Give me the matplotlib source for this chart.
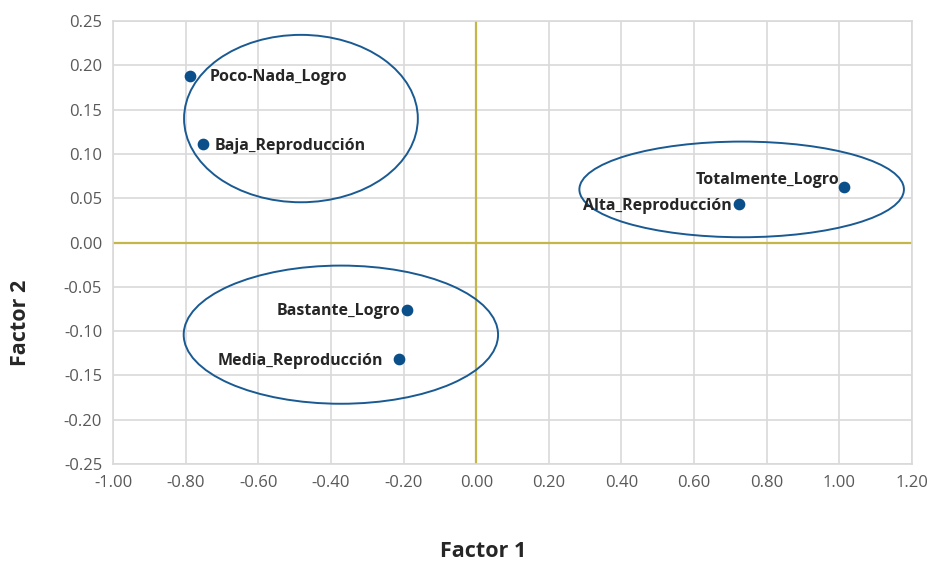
import matplotlib
matplotlib.use("Agg")
import matplotlib.pyplot as plt
from matplotlib.patches import Ellipse
import numpy as np

# data points (Factor 1, Factor 2)
labels = ["Poco-Nada_Logro", "Baja_Reproducción", "Totalmente_Logro",
          "Alta_Reproducción", "Bastante_Logro", "Media_Reproducción"]
f1 = [-0.789, -0.754, 1.012, 0.724, -0.191, -0.214]
f2 = [0.188, 0.111, 0.063, 0.044, -0.076, -0.131]
label_side = ["right", "right", "left", "left", "left", "left"]

# grouping ellipses: center x, center y, width, height
ell_cx = [-0.483, 0.731, -0.373]
ell_cy = [0.140, 0.060, -0.104]
ell_w = [0.644, 0.894, 0.866]
ell_h = [0.189, 0.108, 0.156]

xticks = np.round(np.arange(-1.0, 1.21, 0.2), 2) + 0.0
yticks = np.round(np.arange(-0.25, 0.251, 0.05), 2) + 0.0

tick_font = ["Open Sans", "DejaVu Sans"]
lab_font = ["Open Sans", "DejaVu Sans"]

fig = plt.figure(figsize=(9.33, 5.62), dpi=100)
ax = fig.add_axes([0.1214, 0.1744, 0.856, 0.788])

ax.set_xlim(-1.0, 1.2)
ax.set_ylim(-0.25, 0.25)
ax.set_xticks(xticks)
ax.set_yticks(yticks)
ax.set_xticklabels([f"{abs(v):.2f}" if abs(v) < 1e-9 else f"{v:.2f}" for v in xticks],
                   family=tick_font, fontsize=12, color="#595959")
ax.set_yticklabels([f"{abs(v):.2f}" if abs(v) < 1e-9 else f"{v:.2f}" for v in yticks],
                   family=tick_font, fontsize=12, color="#595959")
ax.tick_params(length=0, pad=8)
ax.grid(True, color="#d9d9d9", lw=1.2)
ax.set_axisbelow(True)
for s in ax.spines.values():
    s.set_color("#d9d9d9")
    s.set_linewidth(1.2)

ax.axhline(0, color="#c4b648", lw=1.6, zorder=1)
ax.axvline(0, color="#c4b648", lw=1.6, zorder=1)

for cx, cy, w, h in zip(ell_cx, ell_cy, ell_w, ell_h):
    ax.add_patch(Ellipse((cx, cy), w, h, fill=False, edgecolor="#1a5a92", lw=1.4, zorder=3))

ax.scatter(f1, f2, s=55, color="#0b4f8a", zorder=4)

offsets = {"Poco-Nada_Logro": (14, -1), "Baja_Reproducción": (9, -1),
           "Totalmente_Logro": (-3, 5), "Alta_Reproducción": (-5, -2),
           "Bastante_Logro": (-5, -1), "Media_Reproducción": (-11, -2)}
for lab, x, y, side in zip(labels, f1, f2, label_side):
    dx, dy = offsets[lab]
    ax.annotate(lab, (x, y), xytext=(dx, dy), textcoords="offset points",
                ha="left" if side == "right" else "right", va="center",
                fontsize=11.5, fontweight="bold", family=lab_font, color="#262626", zorder=5)

fig.text(0.518, 0.0, "Factor 1", ha="center", va="bottom", fontsize=15.5,
         fontweight="bold", family=lab_font, color="#262626")
fig.text(0.022, 0.425, "Factor 2", ha="center", va="center", rotation=90, fontsize=15.5,
         fontweight="bold", family=lab_font, color="#262626")

fig.savefig("out.png", dpi=100)
